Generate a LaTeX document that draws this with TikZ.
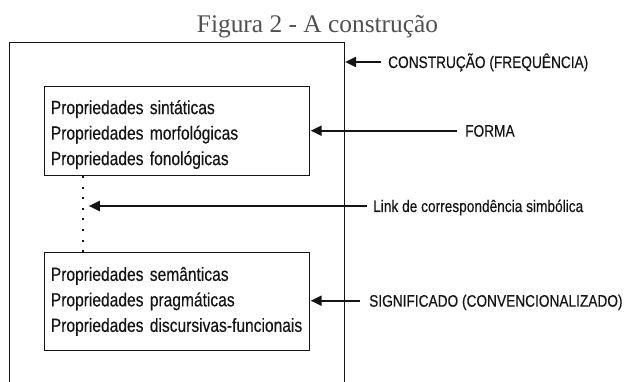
\documentclass[tikz,border=0pt]{standalone}
\usepackage{fontspec}
\setmainfont{Liberation Serif}
\newfontfamily\narrowsans{Liberation Sans}[FakeStretch=0.82,FakeBold=0.35]
\usetikzlibrary{arrows.meta}
\definecolor{titlegray}{HTML}{505050}
\definecolor{ink}{HTML}{141414}
\begin{document}
\begin{tikzpicture}[x=1pt,y=-1pt,
  frame/.style={draw=ink, line width=1.2pt},
  propbox/.style={draw=ink, line width=1.1pt, anchor=north west, align=left,
    text width=252.7pt, inner xsep=6pt, inner ysep=0pt, text=ink,
    font=\narrowsans\fontsize{19}{25.5}\selectfont},
  lbl/.style={inner sep=0pt, anchor=west, text height=12pt, text depth=0pt, text=ink,
    font=\narrowsans\fontsize{16.7}{20}\selectfont},
  pointer/.style={draw=ink, line width=2pt, -{Triangle[length=11pt,width=10pt]}},
  dotline/.style={draw=ink, line width=2pt, dash pattern=on 2pt off 8.6pt},
  ]
\useasboundingbox (0,0) rectangle (625,382);
% title
\node[anchor=base, inner sep=0pt, text=titlegray, font=\fontsize{25.4}{30}\selectfont] (title) at (317.5,33) {Figura 2 - A construção};
% outer construction frame (open at the bottom)
\coordinate (oTL) at (9.3,42.7);
\coordinate (oTR) at (344.3,42.7);
\coordinate (bot) at (0,383);
\draw[frame] (oTL |- bot) -- (oTL) -- (oTR) -- (oTR |- bot);
% property boxes
\node[propbox, minimum height=89pt] (forma) at (44.3,86) {\mbox{\rule{0pt}{21pt}Propriedades sintáticas}\\\mbox{Propriedades morfológicas}\\\mbox{Propriedades fonológicas}};
\node[propbox, minimum height=98.3pt] (signif) at (44.3,251.7) {\mbox{Propriedades semânticas}\\\mbox{Propriedades pragmáticas}\\\mbox{Propriedades discursivas-funcionais}};
% symbolic link (dotted)
\coordinate (dl) at (83.3,206);
\draw[dotline] (forma.south -| dl) -- (signif.north -| dl);
% labels
\node[lbl] (lC) at (388,62) {CONSTRUÇÃO (FREQUÊNCIA)};
\node[lbl] (lF) at (465,130.7) {FORMA};
\node[lbl] (lL) at (373,206) {Link de correspondência simbólica};
\node[lbl] (lS) at (369,300.7) {SIGNIFICADO (CONVENCIONALIZADO)};
% pointers
\draw[pointer] ([xshift=-7pt]lC.west) -- ([xshift=0.8pt]lC.west -| oTR);
\draw[pointer] ([xshift=-8pt]lF.west) -- ([xshift=0.6pt]lF.west -| forma.east);
\draw[pointer] ([xshift=-6pt]lL.west) -- ([xshift=5.5pt]dl);
\draw[pointer] ([xshift=-9pt]lS.west) -- ([xshift=0.6pt]lS.west -| signif.east);
\end{tikzpicture}
\end{document}
